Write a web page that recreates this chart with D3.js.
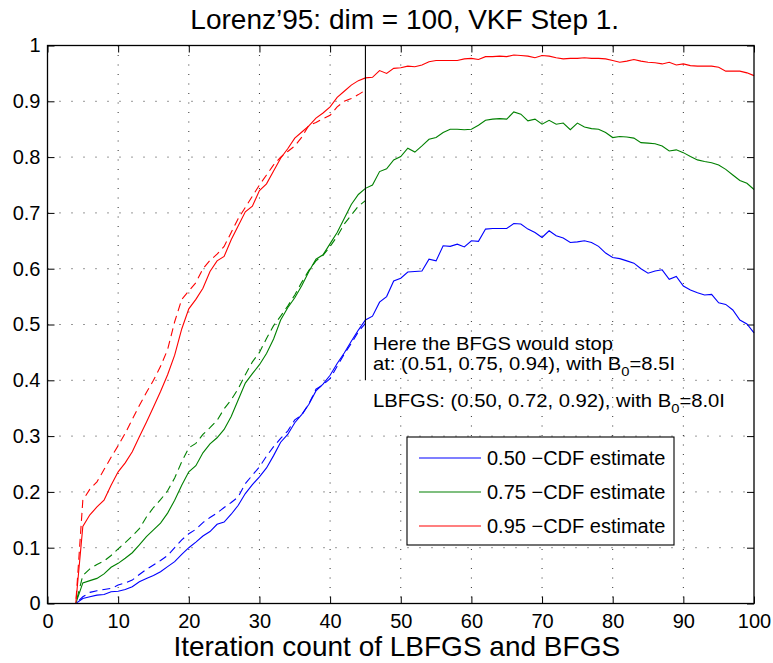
<!DOCTYPE html>
<html><head><meta charset="utf-8">
<script src="https://cdn.jsdelivr.net/npm/d3@7"></script>
<style>body{margin:0;background:#fff}svg{display:block}text{font-family:"Liberation Sans",Arial,Helvetica,sans-serif;fill:#000}</style>
</head><body>
<svg id="chart" width="773" height="663"></svg>
<script>
const iterations = d3.range(1, 101);
const iterationsLBFGS = d3.range(1, 46);
const xTicks = [0,10,20,30,40,50,60,70,80,90,100];
const yTicks = [0,0.1,0.2,0.3,0.4,0.5,0.6,0.7,0.8,0.9,1];
const yTickLabels = ["0","0.1","0.2","0.3","0.4","0.5","0.6","0.7","0.8","0.9","1"];
const seriesNames = ["0.50 \u2212CDF estimate","0.75 \u2212CDF estimate","0.95 \u2212CDF estimate"];
const seriesColors = ["#0000ff","#008000","#ff0000"];

// BFGS (solid), iterations 1..100
const bfgs50 = [0,0,0,0,0.009,0.012,0.015,0.016,0.021,0.022,
0.025,0.030,0.039,0.045,0.050,0.057,0.066,0.075,0.088,0.100,
0.110,0.121,0.129,0.142,0.146,0.160,0.176,0.197,0.213,0.227,
0.243,0.265,0.289,0.303,0.324,0.339,0.357,0.381,0.393,0.409,
0.430,0.449,0.470,0.490,0.508,0.515,0.540,0.550,0.578,0.583,
0.594,0.595,0.596,0.617,0.614,0.641,0.640,0.644,0.639,0.650,
0.649,0.671,0.672,0.672,0.672,0.681,0.680,0.671,0.665,0.656,
0.668,0.659,0.655,0.647,0.648,0.650,0.647,0.640,0.628,0.620,
0.618,0.614,0.610,0.600,0.592,0.596,0.598,0.581,0.586,0.569,
0.562,0.557,0.553,0.554,0.539,0.536,0.526,0.508,0.501,0.485];
const bfgs75 = [0,0,0,0,0.037,0.041,0.045,0.053,0.065,0.072,
0.081,0.091,0.105,0.120,0.132,0.144,0.162,0.185,0.212,0.236,
0.247,0.270,0.286,0.297,0.312,0.335,0.365,0.395,0.412,0.428,
0.448,0.474,0.508,0.530,0.548,0.570,0.595,0.617,0.625,0.645,
0.665,0.690,0.715,0.733,0.744,0.750,0.774,0.779,0.795,0.801,
0.816,0.809,0.820,0.832,0.835,0.844,0.850,0.850,0.849,0.850,
0.857,0.866,0.868,0.869,0.868,0.881,0.877,0.865,0.868,0.859,
0.866,0.859,0.861,0.849,0.861,0.854,0.851,0.850,0.844,0.835,
0.837,0.836,0.834,0.826,0.825,0.824,0.820,0.811,0.813,0.808,
0.801,0.795,0.792,0.790,0.786,0.778,0.768,0.758,0.753,0.742];
const bfgs95 = [0,0,0,0,0.138,0.159,0.173,0.185,0.212,0.236,
0.252,0.272,0.299,0.325,0.352,0.380,0.410,0.445,0.492,0.528,
0.545,0.565,0.595,0.614,0.622,0.652,0.677,0.702,0.712,0.740,
0.752,0.775,0.798,0.815,0.834,0.845,0.856,0.870,0.879,0.890,
0.907,0.918,0.929,0.937,0.942,0.943,0.955,0.950,0.959,0.960,
0.963,0.962,0.965,0.971,0.973,0.973,0.973,0.973,0.976,0.977,
0.975,0.980,0.980,0.981,0.980,0.983,0.982,0.981,0.978,0.982,
0.981,0.978,0.976,0.977,0.977,0.978,0.977,0.977,0.976,0.973,
0.970,0.972,0.975,0.972,0.970,0.969,0.967,0.970,0.965,0.967,
0.964,0.963,0.963,0.963,0.961,0.954,0.954,0.954,0.951,0.946];

// LBFGS (dashed), iterations 1..45
const lbfgs50 = [0,0,0,0,0.012,0.020,0.023,0.025,0.027,0.033,
0.037,0.042,0.052,0.061,0.069,0.077,0.086,0.100,0.114,0.125,
0.133,0.145,0.154,0.162,0.172,0.181,0.191,0.215,0.230,0.245,
0.264,0.281,0.296,0.309,0.329,0.338,0.358,0.384,0.392,0.403,
0.425,0.447,0.466,0.487,0.502];
const lbfgs75 = [0,0,0,0,0.050,0.062,0.070,0.076,0.086,0.098,
0.109,0.121,0.134,0.155,0.172,0.186,0.202,0.225,0.254,0.279,
0.287,0.303,0.315,0.328,0.349,0.365,0.385,0.410,0.433,0.450,
0.475,0.498,0.515,0.533,0.553,0.576,0.597,0.614,0.624,0.640,
0.658,0.680,0.696,0.712,0.722];
const lbfgs95 = [0,0,0,0,0.185,0.205,0.218,0.240,0.262,0.283,
0.305,0.330,0.355,0.378,0.400,0.425,0.455,0.505,0.545,0.560,
0.575,0.600,0.615,0.626,0.640,0.665,0.690,0.710,0.730,0.750,
0.768,0.786,0.800,0.810,0.820,0.836,0.857,0.862,0.869,0.875,
0.890,0.900,0.905,0.912,0.920];

const stopIteration = 45;
const stopLineTop = 1, stopLineBottom = 0.4;

const svg = d3.select("#chart");
const m = {left:47.5, right:754, top:45.5, bottom:603.5};
const x = d3.scaleLinear().domain([0,100]).range([m.left, m.right]);
const y = d3.scaleLinear().domain([0,1]).range([m.bottom, m.top]);
const W = m.right - m.left, H = m.bottom - m.top;

// grid
const grid = svg.append("g");
grid.selectAll("line.gx").data(xTicks.slice(1,-1)).enter().append("line")
  .attr("x1", d=>x(d)).attr("x2", d=>x(d)).attr("y1", m.top).attr("y2", m.bottom)
  .attr("stroke","#000").attr("stroke-width",1).attr("stroke-dasharray","1,8.5").attr("opacity",0.8);
grid.selectAll("line.gy").data(yTicks.slice(1,-1)).enter().append("line")
  .attr("y1", d=>y(d)).attr("y2", d=>y(d)).attr("x1", m.left).attr("x2", m.right)
  .attr("stroke","#000").attr("stroke-width",1).attr("stroke-dasharray","1,11").attr("opacity",0.8);

// axes with inward ticks
const tl = 7;
svg.append("g").attr("transform",`translate(0,${m.bottom})`)
  .call(d3.axisBottom(x).tickValues(xTicks).tickSizeInner(-tl).tickSizeOuter(0).tickPadding(10))
  .call(g=>{g.select(".domain").remove(); g.selectAll("text").attr("font-size",20).attr("dy","0.71em");});
svg.append("g").attr("transform",`translate(0,${m.top})`)
  .call(d3.axisTop(x).tickValues(xTicks).tickSizeInner(-tl).tickSizeOuter(0).tickFormat(""))
  .call(g=>g.select(".domain").remove());
svg.append("g").attr("transform",`translate(${m.left},0)`)
  .call(d3.axisLeft(y).tickValues(yTicks).tickSizeInner(-tl).tickSizeOuter(0).tickPadding(7)
    .tickFormat((d,i)=>yTickLabels[i]))
  .call(g=>{g.select(".domain").remove(); g.selectAll("text").attr("font-size",20);});
svg.append("g").attr("transform",`translate(${m.right},0)`)
  .call(d3.axisRight(y).tickValues(yTicks).tickSizeInner(-tl).tickSizeOuter(0).tickFormat(""))
  .call(g=>g.select(".domain").remove());
svg.selectAll(".tick line").attr("stroke","#000");
svg.selectAll(".tick text").attr("fill","#000");

// lines
const lineGen = d3.line().x(d=>x(d[0])).y(d=>y(d[1]));
const solid = [bfgs50,bfgs75,bfgs95];
const dashed = [lbfgs50,lbfgs75,lbfgs95];
dashed.forEach((s,i)=>{
  svg.append("path").datum(iterationsLBFGS.map((it,j)=>[it,s[j]]))
    .attr("d",lineGen).attr("fill","none").attr("stroke",seriesColors[i])
    .attr("stroke-width",1.1).attr("stroke-dasharray","8,5");
});
solid.forEach((s,i)=>{
  svg.append("path").datum(iterations.map((it,j)=>[it,s[j]]))
    .attr("d",lineGen).attr("fill","none").attr("stroke",seriesColors[i])
    .attr("stroke-width",1.1);
});

// stop line
svg.append("line").attr("x1",x(stopIteration)).attr("x2",x(stopIteration))
  .attr("y1",y(stopLineTop)).attr("y2",y(stopLineBottom)).attr("stroke","#000").attr("stroke-width",1.1);

// box
svg.append("rect").attr("x",m.left).attr("y",m.top).attr("width",W).attr("height",H)
  .attr("fill","none").attr("stroke","#000").attr("stroke-width",1.3);

// annotations
const ann = svg.append("g").attr("font-size",17.8);
ann.append("text").attr("x",373).attr("y",349.5)
  .attr("textLength",240).attr("lengthAdjust","spacingAndGlyphs").text("Here the BFGS would stop");
const t2 = ann.append("text").attr("x",373).attr("y",369.5)
  .attr("textLength",302).attr("lengthAdjust","spacingAndGlyphs");
t2.append("tspan").text("at: (0.51, 0.75, 0.94), with B");
t2.append("tspan").attr("font-size",13).attr("dy",6).text("0");
t2.append("tspan").attr("dy",-6).text("=8.5I");
const t3 = ann.append("text").attr("x",373).attr("y",407)
  .attr("textLength",352).attr("lengthAdjust","spacingAndGlyphs");
t3.append("tspan").text("LBFGS: (0.50, 0.72, 0.92), with B");
t3.append("tspan").attr("font-size",13).attr("dy",6).text("0");
t3.append("tspan").attr("dy",-6).text("=8.0I");

// legend
const lg = svg.append("g");
lg.append("rect").attr("x",407).attr("y",437).attr("width",267).attr("height",108)
  .attr("fill","#fff").attr("stroke","#000").attr("stroke-width",1.1);
seriesNames.forEach((n,i)=>{
  const yy = 458 + i*34;
  lg.append("line").attr("x1",419).attr("x2",481).attr("y1",yy).attr("y2",yy)
    .attr("stroke",seriesColors[i]).attr("stroke-width",1.1);
  lg.append("text").attr("x",487).attr("y",yy).attr("dy","0.36em").attr("font-size",20).text(n);
});

// titles
svg.append("text").attr("x",(m.left+m.right)/2+4).attr("y",29).attr("text-anchor","middle")
  .attr("font-size",28).text("Lorenz\u201995: dim = 100, VKF Step 1.");
svg.append("text").attr("x",(m.left+m.right)/2-4).attr("y",656).attr("text-anchor","middle")
  .attr("font-size",28).text("Iteration count of LBFGS and BFGS");
</script>
</body></html>
